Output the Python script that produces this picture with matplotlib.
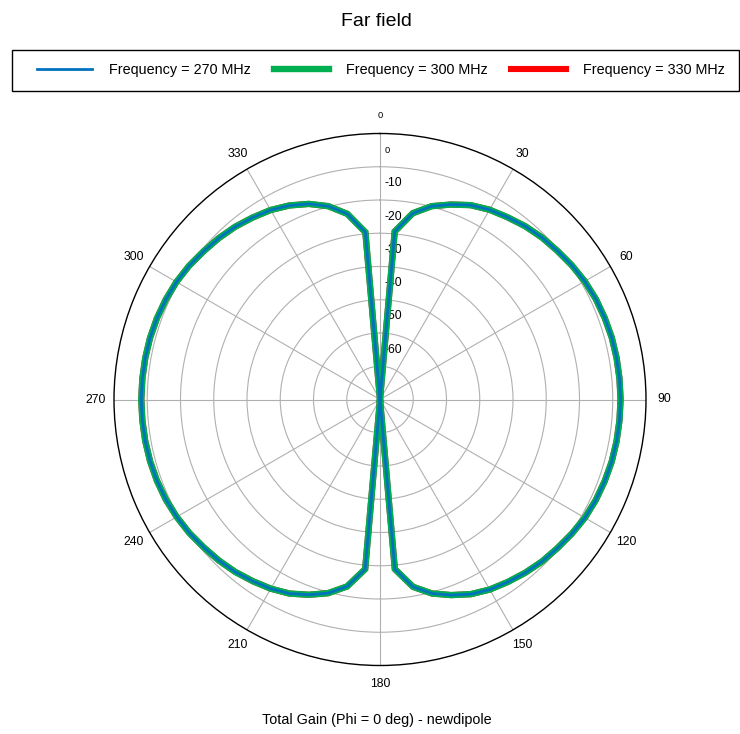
import numpy as np
import matplotlib
matplotlib.use("Agg")
import matplotlib.pyplot as plt
from matplotlib.patches import Rectangle

plt.rcParams['font.family'] = ['Liberation Sans', 'DejaVu Sans']

# Elevation cut, 5 degree steps (0 = dipole axis, clockwise)
theta_deg = list(range(0, 360, 5))

gain_270 = [-75, -24.3, -18.1, -14.8, -12.6, -10.5, -9.1, -8.1, -7.0, -6.1,
            -5.4, -4.6, -3.9, -3.4, -3.1, -2.85, -2.75, -2.7, -2.65, -2.7,
            -2.75, -2.85, -3.1, -3.4, -3.85, -4.6, -5.4, -6.1, -7.0, -8.0,
            -9.0, -10.4, -12.4, -14.6, -17.8, -23.8, -75, -23.8, -17.9, -14.7,
            -12.5, -10.6, -9.3, -8.3, -7.3, -6.5, -5.8, -5.0, -4.4, -3.9,
            -3.6, -3.4, -3.3, -3.25, -3.2, -3.25, -3.3, -3.4, -3.6, -3.9,
            -4.3, -4.9, -5.7, -6.4, -7.2, -8.2, -9.2, -10.6, -12.4, -14.8,
            -18.3, -24.5]
gain_300 = list(gain_270)
gain_330 = list(gain_270)

series_labels = ['Frequency = 270 MHz', 'Frequency = 300 MHz', 'Frequency = 330 MHz']
angle_ticks = [0, 30, 60, 90, 120, 150, 180, 210, 240, 270, 300, 330]
mag_labels = [0, -10, -20, -30, -40, -50, -60]
mag_grid = [-65, -55, -45, -35, -25, -15, -5]
r_min, r_max = -75, 5

W, H = 740, 734
fig = plt.figure(figsize=(W / 100, H / 100), dpi=100)
cx, cy, R = 380, 399.5, 266
ax = fig.add_axes([(cx - R) / W, (H - cy - R) / H, 2 * R / W, 2 * R / H],
                  projection='polar')
ax.set_theta_zero_location('N')
ax.set_theta_direction(-1)
ax.set_rlim(r_min, r_max)

def closed(vals):
    t = np.deg2rad(np.append(theta_deg, 360))
    return t, np.append(vals, vals[0])

t, g = closed(gain_330)
l3, = ax.plot(t, g, color='#FF0000', lw=4.4, zorder=3, solid_joinstyle='miter')
t, g = closed(gain_300)
l2, = ax.plot(t, g, color='#00B050', lw=4.6, zorder=4, solid_joinstyle='miter')
t, g = closed(gain_270)
l1, = ax.plot(t, g, color='#0072BD', lw=2.0, zorder=5, solid_joinstyle='miter')

ax.set_rticks(mag_grid)
ax.set_yticklabels([])
ax.set_thetagrids(angle_ticks, [str(a) for a in angle_ticks], fontsize=8.8)
ax.tick_params(axis='x', pad=2.5)
for lab in ax.get_xticklabels():
    if lab.get_text() == '0':
        lab.set_fontsize(6.8)
ax.grid(True, color='#b0b0b0', lw=0.8)
ax.spines['polar'].set_color('black')
ax.spines['polar'].set_linewidth(1.0)

for v in mag_labels:
    ax.annotate(str(v), xy=(0, v), xytext=(3, 0), textcoords='offset points',
                ha='left', va='center', fontsize=6.8 if v == 0 else 8.8,
                zorder=1)

fig.text(376 / W, 1 - 21 / H, 'Far field', ha='center', va='center', fontsize=14)
fig.text(377 / W, 1 - 720 / H, 'Total Gain (Phi = 0 deg) - newdipole',
         ha='center', va='center', fontsize=10.4)

fig.legend([l1, l2, l3], series_labels, loc='center',
           bbox_to_anchor=(381 / W, 1 - 70 / H), ncol=3, frameon=False,
           handlelength=3.8, handletextpad=1.15, columnspacing=1.65, fontsize=10.4)
fig.patches.append(Rectangle((12 / W, 1 - 91 / H), 727 / W, 41 / H,
                             transform=fig.transFigure, fill=False,
                             edgecolor='black', lw=1.0))

fig.savefig('out.png', dpi=100)
